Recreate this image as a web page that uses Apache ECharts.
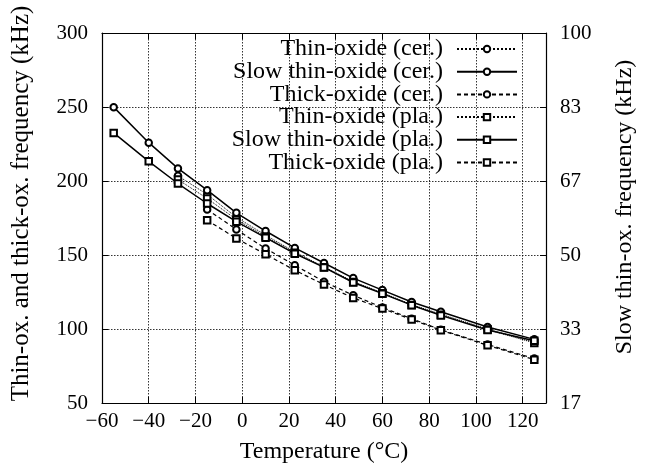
<!DOCTYPE html>
<html>
<head>
<meta charset="utf-8">
<script src="https://cdn.jsdelivr.net/npm/echarts@6/dist/echarts.min.js"></script>
<style>
  html, body { margin: 0; padding: 0; background: #fff; }
  #chart { width: 659px; height: 475px; }
</style>
</head>
<body>
<div id="chart"></div>
<script>
// temperatures (°C) where the points sit
const temps = [-55, -40, -27.5, -15, -2.5, 10, 22.5, 35, 47.5, 60, 72.5, 85, 105, 125];

// left axis (kHz)
const thinCer  = [null, null, 203.5, 190.9, 175.5, 163.4, 152.1, 142.0, 132.0, 124.5, 116.5, 110.0, 100.0, 91.0];
const thickCer = [null, null, null, 180.8, 167.2, 154.4, 143.1, 132.0, 122.8, 114.5, 107.0, 99.5, 89.5, 80.0];
const thinPla  = [null, null, 201.0, 188.2, 174.0, 162.5, 151.5, 141.8, 131.8, 124.2, 116.2, 109.6, 99.6, 90.6];
const thickPla = [null, null, null, 173.5, 161.2, 150.5, 139.7, 130.0, 121.0, 113.8, 106.4, 99.2, 89.0, 79.3];
// right axis (kHz)
const slowCer  = [83.3, 75.3, 69.5, 64.6, 59.5, 55.4, 51.6, 48.2, 44.8, 42.1, 39.4, 37.2, 33.8, 31.0];
const slowPla  = [77.5, 71.1, 66.1, 61.6, 57.5, 53.9, 50.3, 47.2, 43.8, 41.3, 38.7, 36.4, 33.1, 30.7];

const xTicks = [-60, -40, -20, 0, 20, 40, 60, 80, 100, 120];

const font = 'Liberation Serif';

function pts(vals) {
    let out = [];
    for (let i = 0; i < temps.length; i++) {
        if (vals[i] !== null) out.push([temps[i], vals[i]]);
    }
    return out;
}

function mkSeries(name, vals, axis, symbol, lineType, width) {
    return {
        name: name,
        type: 'line',
        yAxisIndex: axis,
        data: pts(vals),
        symbol: symbol,
        symbolSize: 6.5,
        showSymbol: true,
        z: 3,
        lineStyle: { color: '#000', width: width, type: lineType },
        itemStyle: { color: '#000', borderColor: '#000', borderWidth: 1.2 },
        animation: false
    };
}

let chart = echarts.init(document.getElementById('chart'));

let lineStyleAxis = { show: true, onZero: false, lineStyle: { color: '#000', width: 1.2 } };
let tickStyle = { show: true, inside: true, length: 6, lineStyle: { color: '#000' } };
let gridStyle = { show: true, lineStyle: { color: '#000', width: 0.8, type: [1.5, 1.5] } };

option = {
    backgroundColor: '#fff',
    animation: false,
    grid: { left: 102, right: 113, top: 33, bottom: 72, containLabel: false },
    legend: {
        top: 37,
        right: 141,
        orient: 'vertical',
        align: 'right',
        padding: 0,
        itemWidth: 60,
        itemHeight: 8,
        itemGap: -1.3,
        textStyle: { fontFamily: font, fontSize: 24, color: '#000', lineHeight: 22.7, padding: [0, 9, 0, 0] },
        data: ['Thin-oxide (cer.)', 'Slow thin-oxide (cer.)', 'Thick-oxide (cer.)',
               'Thin-oxide (pla.)', 'Slow thin-oxide (pla.)', 'Thick-oxide (pla.)']
    },
    xAxis: [
        {
            type: 'value',
            min: -60,
            max: 130,
            interval: 20,
            name: 'Temperature (°C)',
            nameLocation: 'middle',
            nameGap: 37,
            nameTextStyle: { fontFamily: font, fontSize: 24, color: '#000' },
            axisLine: lineStyleAxis,
            axisTick: tickStyle,
            splitLine: gridStyle,
            axisLabel: {
                color: '#000', fontFamily: font, fontSize: 21, margin: 8,
                formatter: function (v) { return xTicks.indexOf(v) >= 0 ? String(v).replace('-', '\u2212') : ''; }
            }
        },
        {
            type: 'value',
            position: 'top',
            min: -60,
            max: 130,
            interval: 20,
            axisLine: lineStyleAxis,
            axisTick: tickStyle,
            axisLabel: { show: false },
            splitLine: { show: false }
        }
    ],
    yAxis: [
        {
            type: 'value',
            min: 50,
            max: 300,
            interval: 50,
            name: 'Thin-ox. and thick-ox. frequency (kHz)',
            nameLocation: 'middle',
            nameGap: 68,
            nameTextStyle: { fontFamily: font, fontSize: 25, color: '#000', padding: [0, 0, 0, 29] },
            axisLine: lineStyleAxis,
            axisTick: tickStyle,
            splitLine: gridStyle,
            axisLabel: { color: '#000', fontFamily: font, fontSize: 21, margin: 14 }
        },
        {
            type: 'value',
            position: 'right',
            min: 50 / 3,
            max: 100,
            interval: 50 / 3,
            name: 'Slow thin-ox. frequency (kHz)',
            nameLocation: 'middle',
            nameGap: 67,
            nameRotate: 90,
            nameTextStyle: { fontFamily: font, fontSize: 24, color: '#000', padding: [0, 0, 0, 22] },
            axisLine: lineStyleAxis,
            axisTick: tickStyle,
            splitLine: { show: false },
            axisLabel: {
                color: '#000', fontFamily: font, fontSize: 21, margin: 14,
                formatter: function (v) { return String(Math.round(v)); }
            }
        }
    ],
    series: [
        mkSeries('Thin-oxide (cer.)', thinCer, 0, 'emptyCircle', 'dotted', 1),
        mkSeries('Slow thin-oxide (cer.)', slowCer, 1, 'emptyCircle', 'solid', 1.5),
        mkSeries('Thick-oxide (cer.)', thickCer, 0, 'emptyCircle', [4, 3], 1.2),
        mkSeries('Thin-oxide (pla.)', thinPla, 0, 'emptyRect', 'dotted', 1),
        mkSeries('Slow thin-oxide (pla.)', slowPla, 1, 'emptyRect', 'solid', 1.5),
        mkSeries('Thick-oxide (pla.)', thickPla, 0, 'emptyRect', [4, 3], 1.2)
    ]
};

chart.setOption(option);
</script>
</body>
</html>
